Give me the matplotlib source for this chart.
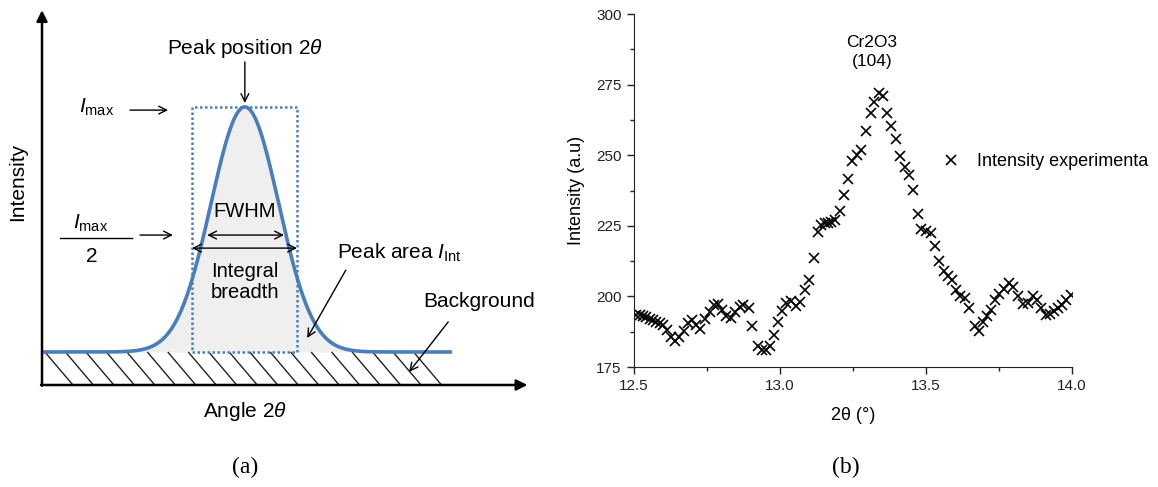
import matplotlib
matplotlib.use("Agg")
import matplotlib.pyplot as plt
import numpy as np
from matplotlib.collections import LineCollection
from matplotlib.patches import Rectangle
from matplotlib.ticker import MultipleLocator

plt.rcParams.update({
    "font.family": ["Liberation Sans", "DejaVu Sans"],
    "mathtext.fontset": "custom",
    "mathtext.rm": "Liberation Sans",
    "mathtext.it": "Liberation Sans:italic",
})

W, H = 1158, 487

# ----------------------------------------------------------------------
# Panel (a): schematic diffraction peak (arbitrary units, axes 0..10)
# ----------------------------------------------------------------------
PEAK_CENTER = 4.2
PEAK_SIGMA = 0.70
PEAK_HEIGHT = 6.57
BACKGROUND = 0.885
CURVE_END = 8.49
BREADTH_LEFT, BREADTH_RIGHT = 3.106, 5.28
FWHM_LEFT, FWHM_RIGHT = 3.42, 5.01
HATCH_FIRST, HATCH_LAST, HATCH_STEP = 0.06, 8.10, 0.424
HATCH_SLANT = 0.58

# ----------------------------------------------------------------------
# Panel (b): measured Cr2O3 (104) reflection
# ----------------------------------------------------------------------
two_theta = [
    12.508, 12.520, 12.531, 12.542, 12.554, 12.565, 12.577, 12.588, 12.599, 12.613,
    12.628, 12.639, 12.654, 12.670, 12.685, 12.697, 12.711, 12.725, 12.742, 12.759,
    12.774, 12.788, 12.801, 12.816, 12.831, 12.847, 12.862, 12.873, 12.894, 12.905,
    12.925, 12.940, 12.951, 12.965, 12.978, 12.993, 13.008, 13.022, 13.039, 13.056,
    13.067, 13.085, 13.099, 13.115, 13.130, 13.142, 13.153, 13.164, 13.176, 13.187,
    13.204, 13.218, 13.233, 13.248, 13.262, 13.279, 13.294, 13.310, 13.322, 13.339,
    13.353, 13.368, 13.381, 13.396, 13.410, 13.427, 13.442, 13.455, 13.471, 13.484,
    13.499, 13.518, 13.530, 13.545, 13.561, 13.575, 13.590, 13.604, 13.618, 13.633,
    13.648, 13.667, 13.682, 13.695, 13.709, 13.722, 13.735, 13.750, 13.766, 13.784,
    13.798, 13.815, 13.832, 13.849, 13.866, 13.880, 13.895, 13.910, 13.924, 13.937,
    13.952, 13.967, 13.981, 13.995,
]
intensity = [
    193.3, 193.3, 192.9, 192.6, 192.0, 191.5, 190.9, 190.6, 189.7, 188.2,
    185.8, 184.3, 185.8, 187.8, 190.6, 191.7, 189.7, 188.6, 192.0, 194.5,
    197.1, 197.3, 195.3, 192.9, 192.3, 194.5, 196.2, 196.9, 195.9, 189.4,
    182.3, 180.9, 180.9, 182.3, 186.4, 190.8, 194.7, 197.6, 198.2, 196.5,
    197.9, 202.4, 205.9, 213.6, 222.7, 225.4, 226.0, 226.0, 226.2, 227.2,
    230.1, 236.0, 241.7, 247.9, 250.2, 252.0, 258.5, 264.8, 268.7, 272.1,
    271.1, 264.8, 260.5, 255.9, 249.6, 245.9, 243.1, 237.6, 229.3, 223.9,
    223.0, 222.3, 217.7, 212.6, 208.9, 207.1, 205.7, 202.1, 200.0, 199.4,
    195.8, 189.6, 187.6, 190.8, 192.9, 195.3, 198.8, 201.0, 202.6, 204.7,
    203.3, 200.0, 197.4, 197.7, 200.0, 198.8, 195.9, 193.5, 193.9, 194.7,
    195.9, 197.1, 198.8, 200.6,
]

BLUE = "#4a7ebb"
FS_A = 15

fig = plt.figure(figsize=(W / 100, H / 100), dpi=100)

# --- panel (a) ---------------------------------------------------------
ax_a = fig.add_axes([42 / W, 1 - 385 / H, 483 / W, 373 / H])
ax_a.set_xlim(0, 10)
ax_a.set_ylim(0, 10)
ax_a.axis("off")

x = np.linspace(0, CURVE_END, 500)
y = BACKGROUND + PEAK_HEIGHT * np.exp(-0.5 * ((x - PEAK_CENTER) / PEAK_SIGMA) ** 2)
ax_a.fill_between(x, BACKGROUND, y, color="#efefef", lw=0, zorder=1)

# hatched background band (slanted strokes under the baseline)
tops = np.arange(HATCH_FIRST, HATCH_LAST + 1e-6, HATCH_STEP)
segs = [[(t, BACKGROUND), (t + HATCH_SLANT, 0)] for t in tops]
ax_a.add_collection(LineCollection(segs, colors="#222222", linewidths=1.0,
                                   zorder=1))

ax_a.add_patch(Rectangle((BREADTH_LEFT, BACKGROUND), BREADTH_RIGHT - BREADTH_LEFT,
                         PEAK_HEIGHT, fill=False, edgecolor=BLUE, lw=1.8,
                         linestyle=(0, (1, 1.0)), zorder=2))
ax_a.plot(x, y, color=BLUE, lw=2.6, zorder=3, solid_capstyle="butt")

# axis arrows
axis_arrow = dict(arrowstyle="-|>", lw=1.8, color="black", mutation_scale=16,
                  shrinkA=0, shrinkB=0)
ax_a.annotate("", xy=(0, 10.05), xytext=(0, -0.02), arrowprops=axis_arrow,
              annotation_clip=False)
ax_a.annotate("", xy=(10.05, 0), xytext=(-0.02, 0), arrowprops=axis_arrow,
              annotation_clip=False)

thin = dict(arrowstyle="->", lw=1.0, color="black", mutation_scale=14,
            shrinkA=0, shrinkB=0)
both = dict(arrowstyle="<->", lw=1.0, color="black", mutation_scale=14,
            shrinkA=0, shrinkB=0)

ax_a.text(PEAK_CENTER, 9.01, r"Peak position 2$\it{\theta}$", ha="center",
          va="center", fontsize=FS_A)
ax_a.annotate("", xy=(PEAK_CENTER, 7.56), xytext=(PEAK_CENTER, 8.66),
              arrowprops=thin)

ax_a.text(1.14, 7.45, r"$I_{\rm max}$", ha="center", va="center", fontsize=FS_A)
ax_a.annotate("", xy=(2.61, 7.37), xytext=(1.82, 7.37), arrowprops=thin)

ax_a.text(1.0, 4.34, r"$I_{\rm max}$", ha="center", va="center", fontsize=FS_A)
ax_a.plot([0.37, 1.86], [3.94, 3.94], color="black", lw=1.0)
ax_a.text(1.04, 3.45, "2", ha="center", va="center", fontsize=FS_A)
ax_a.annotate("", xy=(2.71, 4.02), xytext=(2.03, 4.02), arrowprops=thin)

ax_a.text(PEAK_CENTER, 4.64, "FWHM", ha="center", va="center", fontsize=14.5,
          zorder=4)
ax_a.annotate("", xy=(FWHM_RIGHT, 4.02), xytext=(FWHM_LEFT, 4.02),
              arrowprops=both, zorder=4)
ax_a.annotate("", xy=(BREADTH_RIGHT, 3.67), xytext=(BREADTH_LEFT, 3.67),
              arrowprops=both, zorder=4)
ax_a.text(PEAK_CENTER, 2.76, "Integral\nbreadth", ha="center", va="center",
          fontsize=14.5, linespacing=1.15, zorder=4)

ax_a.text(6.11, 3.54, r"Peak area $I_{\rm Int}$", ha="left", va="center",
          fontsize=FS_A)
ax_a.annotate("", xy=(5.49, 1.26), xytext=(6.29, 3.08), arrowprops=thin)

ax_a.text(7.89, 2.23, "Background", ha="left", va="center", fontsize=FS_A)
ax_a.annotate("", xy=(7.6, 0.35), xytext=(8.41, 1.69), arrowprops=thin)

ax_a.text(PEAK_CENTER, -0.72, r"Angle 2$\it{\theta}$", ha="center", va="center",
          fontsize=FS_A)
ax_a.text(-0.5, 5.44, "Intensity", ha="center", va="center", rotation=90,
          fontsize=FS_A)

fig.text(245 / W, 1 - 467 / H, "(a)", ha="center", va="center",
         family="Liberation Serif", fontsize=17)

# --- panel (b) ---------------------------------------------------------
ax_b = fig.add_axes([634 / W, 1 - 367 / H, 438 / W, 353 / H])
ax_b.plot(two_theta, intensity, "x", color="black", ms=7.5, mew=1.2,
          label="Intensity experimenta")
ax_b.set_xlim(12.5, 14.0)
ax_b.set_ylim(175, 300)
ax_b.xaxis.set_major_locator(MultipleLocator(0.5))
ax_b.xaxis.set_minor_locator(MultipleLocator(0.25))
ax_b.yaxis.set_major_locator(MultipleLocator(25))
ax_b.yaxis.set_minor_locator(MultipleLocator(12.5))
ax_b.tick_params(which="major", direction="out", length=5, width=1,
                 labelsize=11, colors="#222222", pad=4)
ax_b.tick_params(which="minor", direction="out", length=3, width=1,
                 colors="#222222")
for side in ("top", "right"):
    ax_b.spines[side].set_visible(False)
for side in ("left", "bottom"):
    ax_b.spines[side].set_color("#222222")
ax_b.set_xlabel("2θ (°)", fontsize=13, labelpad=10)
ax_b.set_ylabel("Intensity (a.u)", fontsize=13, labelpad=8)
ax_b.text(13.315, 286.5, "Cr2O3\n(104)", ha="center", va="center",
          fontsize=12.5, linespacing=1.35)
ax_b.legend(loc="center left", bbox_to_anchor=(0.703, 0.581), frameon=False,
            fontsize=13, handlelength=1.0, handletextpad=0.94, borderpad=0,
            borderaxespad=0, numpoints=1)

fig.text(846 / W, 1 - 467 / H, "(b)", ha="center", va="center",
         family="Liberation Serif", fontsize=17)

fig.savefig("out.png", dpi=100)
